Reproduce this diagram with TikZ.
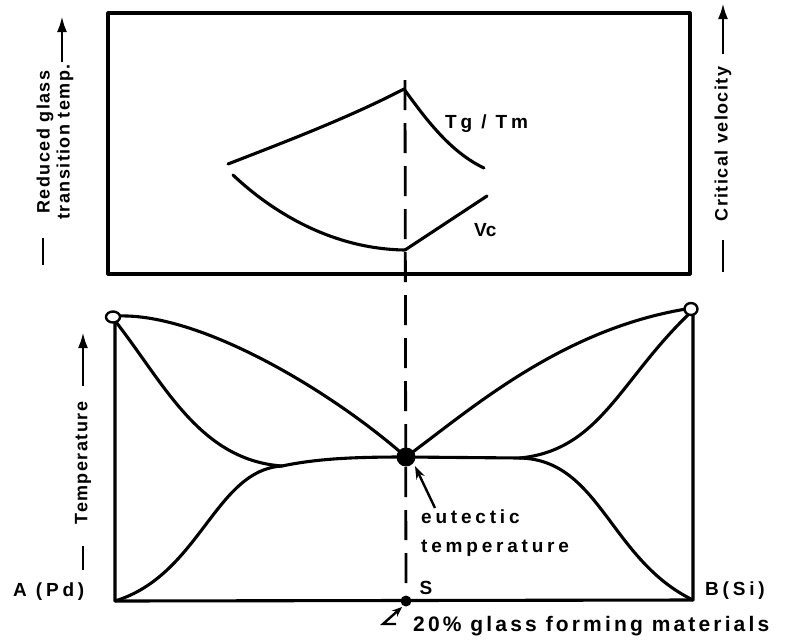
\documentclass[tikz,border=0pt]{standalone}
\usepackage{fontspec}
\setmainfont{Liberation Sans}
\newfontfamily\lblfamily{Liberation Sans}[LetterSpace=20]
\newfontfamily\bigfamily{Liberation Sans}[LetterSpace=15]
\newfontfamily\axfamily{Liberation Sans}[LetterSpace=8]
\usetikzlibrary{arrows.meta}
\begin{document}
\begin{tikzpicture}[x=1pt,y=-1pt,
  ln/.style={line width=3.1pt, line cap=round, line join=round},
  dsh/.style={line width=2.8pt, dash pattern=on 30pt off 13pt},
  axline/.style={line width=2.8pt},
  lbl/.style={font=\lblfamily\bfseries\fontsize{19}{22}\selectfont, inner sep=0pt},
  blbl/.style={font=\bigfamily\bfseries\fontsize{21}{24}\selectfont, inner sep=0pt},
  axl/.style={font=\axfamily\bfseries\fontsize{18}{20}\selectfont, inner sep=0pt, rotate=90}]
\useasboundingbox (0,0) rectangle (796,641);

% ---------- top panel ----------
\coordinate (tl) at (108,13);
\coordinate (br) at (690,274);
\draw[ln] (tl) rectangle (br);

\coordinate (tgL) at (228,164);
\coordinate (tgP) at (404,89);
\coordinate (tgR) at (484,168);
\coordinate (vcL) at (233,175);
\coordinate (vcM) at (405,250);
\coordinate (vcR) at (487,196);

\draw[ln] (tgL) .. controls (290,140) and (350,117) .. (tgP);
\draw[ln] (tgP) .. controls (425,118) and (450,152) .. (tgR);
\draw[ln] (vcL) .. controls (270,210) and (330,249) .. (vcM);
\draw[ln] (vcM) -- (vcR);

\node[lbl, anchor=base west] (tgtm) at (445,128) {Tg / Tm};
\node[lbl, anchor=base west] (vc) at (474,236) {V\kern-1pt c};

% ---------- dashed composition line ----------
\coordinate (dtop) at (405,80);
\coordinate (S) at (406,601);
\draw[dsh] (dtop) -- (S);

% ---------- bottom panel ----------
\coordinate (Ac) at (113,317);
\coordinate (Bc) at (691,309);
\coordinate (A0) at (115,601);
\coordinate (B0) at (693,600);
\coordinate (E) at (406,457);
\coordinate (jL) at (282,466);
\coordinate (jR) at (520,458);

\draw[ln] (115,322) -- (A0) -- (B0) -- (693,314);

% liquidus
\draw[ln] (118,316) .. controls (200,313) and (330,390) .. (E);
\draw[ln] (E) .. controls (470,410) and (560,330) .. (686,309);
% left S-curves
\draw[ln] (116,322) .. controls (165,385) and (200,460) .. (jL);
\draw[ln] (A0) .. controls (200,575) and (215,470) .. (jL);
\draw[ln] (jL) .. controls (320,458) and (360,457) .. (E);
% right S-curves
\draw[ln] (E) -- (jR);
\draw[ln] (jR) .. controls (600,450) and (620,380) .. (689,314);
\draw[ln] (jR) .. controls (600,460) and (610,560) .. (B0);

% end points
\draw[line width=2.4pt, fill=white] (Ac) ellipse (7pt and 5.5pt);
\draw[line width=2.4pt, fill=white] (Bc) ellipse (6.5pt and 6pt);
\fill (E) circle (9.5pt);
\fill (S) circle (5.5pt);

% labels
\node[lbl, anchor=west] (A) at (13,592) {A (Pd)};
\node[lbl, anchor=west] (B) at (705,591) {B(Si)};
\node[lbl, anchor=center] (Slbl) at (426,588) {S};
\node[lbl, anchor=base west] (eu1) at (421,523) {eutectic};
\node[lbl, anchor=base west] (eu2) at (421,552) {temperature};
\coordinate (eutail) at (435,508);
\draw[line width=2.4pt, -{Stealth[length=13pt,width=9pt]}] (eutail) -- (415,466);
\node[blbl, anchor=base west] (pct) at (413,631) {20\% glass forming materials};
\coordinate (sarr) at (383,624);
\draw[line width=2.4pt, -{Stealth[length=10pt,width=8pt]}] (396,624) -- (sarr) -- (402,607);

% axis labels: top left
\node[axl] (ax1) at (45,142) {Reduced glass};
\node[axl] (ax2) at (65,142) {transition temp.};
\coordinate (a1s) at (62,62);
\coordinate (a1e) at (62,16);
\draw[axline, -{Latex[length=16pt,width=10pt]}] (a1s) -- (a1e);
\draw[axline] (43,238) -- (43,265);

% axis labels: top right
\node[axl] (ax3) at (723,144) {Critical velocity};
\coordinate (a2s) at (723,54);
\coordinate (a2e) at (723,3);
\draw[axline, -{Latex[length=16pt,width=10pt]}] (a2s) -- (a2e);
\draw[axline] (723,240) -- (723,272);

% axis labels: temperature
\node[axl] (ax4) at (83,463) {Temperature};
\coordinate (a3s) at (83,386);
\coordinate (a3e) at (83,332);
\draw[axline, -{Latex[length=16pt,width=10pt]}] (a3s) -- (a3e);
\draw[axline] (83,546) -- (83,570);
\end{tikzpicture}
\end{document}
